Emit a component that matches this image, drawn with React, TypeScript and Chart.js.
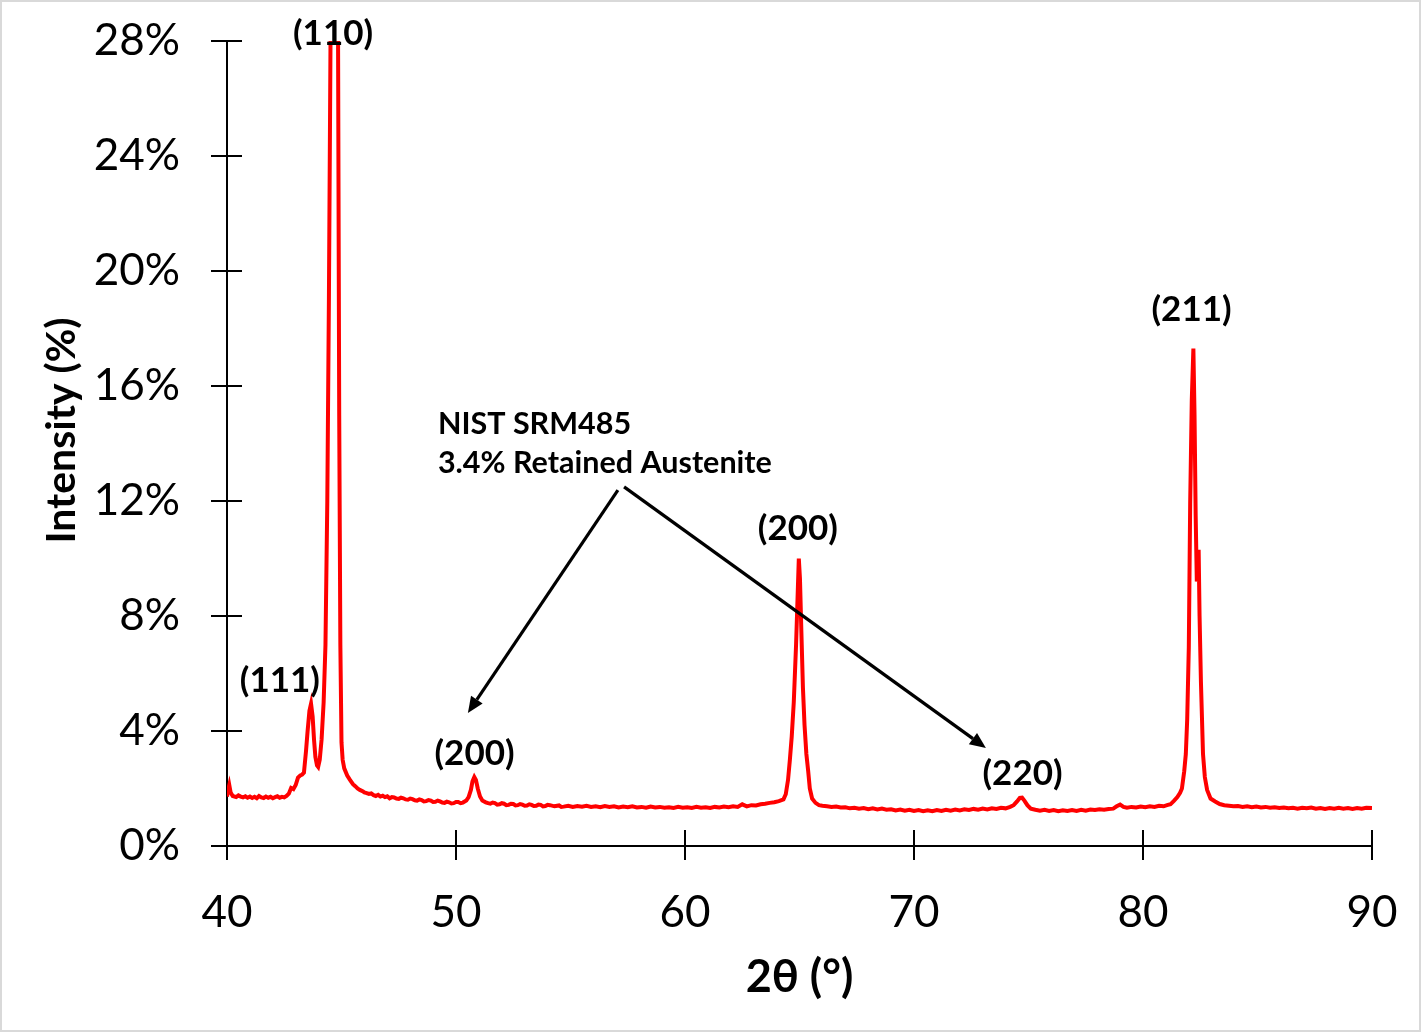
import React, { useEffect, useRef } from "react";
import { Chart, registerables } from "chart.js";

Chart.register(...registerables);

const FONT = "Lato, 'Open Sans', sans-serif";

// measured scan, [2θ (°), intensity (%)]
const scanFerrite110: [number, number][] = [
  [40.0, 1.72], [40.05, 1.95], [40.1, 2.12], [40.16, 1.86], [40.25, 1.74], [40.4, 1.7],
  [40.5, 1.76], [40.6, 1.72], [40.7, 1.69], [40.8, 1.73], [40.9, 1.68], [41.0, 1.72],
  [41.1, 1.67], [41.2, 1.71], [41.3, 1.66], [41.4, 1.74], [41.5, 1.69], [41.6, 1.67],
  [41.7, 1.72], [41.8, 1.68], [41.9, 1.71], [42.0, 1.66], [42.1, 1.7], [42.2, 1.73],
  [42.3, 1.68], [42.4, 1.71], [42.5, 1.69], [42.6, 1.74], [42.7, 1.82],
  [42.8, 2.02], [42.9, 1.98], [43.0, 2.12], [43.1, 2.38], [43.2, 2.45], [43.28, 2.48],
  [43.36, 2.55], [43.45, 3.3], [43.52, 4.0], [43.6, 4.7], [43.67, 4.95], [43.74, 4.5],
  [43.8, 3.7], [43.86, 3.1], [43.93, 2.8], [43.98, 2.75], [44.05, 3.0], [44.13, 3.7],
  [44.22, 5.0], [44.3, 7.0], [44.38, 12], [44.45, 19], [44.52, 28], [44.6, 60],
  [44.68, 100], [44.76, 60], [44.85, 28], [44.9, 15], [44.95, 7], [45.0, 3.6],
  [45.05, 3.0], [45.12, 2.7], [45.25, 2.45], [45.37, 2.3], [45.5, 2.15], [45.6, 2.08],
  [45.7, 2.0], [45.8, 1.95], [45.94, 1.9],
];

const scanAustenite200: [number, number][] = [
  [46.0, 1.86], [46.1, 1.84], [46.2, 1.81], [46.3, 1.83], [46.4, 1.77], [46.5, 1.74],
  [46.6, 1.78], [46.7, 1.72], [46.8, 1.75], [46.9, 1.7], [47.0, 1.73], [47.1, 1.66],
  [47.2, 1.7], [47.3, 1.69], [47.4, 1.65], [47.5, 1.64], [47.6, 1.68], [47.7, 1.66],
  [47.8, 1.62], [47.9, 1.61], [48.0, 1.65], [48.1, 1.63], [48.2, 1.59], [48.3, 1.58],
  [48.4, 1.62], [48.5, 1.6], [48.6, 1.55], [48.7, 1.56], [48.8, 1.6], [48.9, 1.58],
  [49.0, 1.53], [49.1, 1.54], [49.2, 1.58], [49.3, 1.55], [49.4, 1.51], [49.5, 1.5],
  [49.6, 1.54], [49.7, 1.52], [49.8, 1.48], [49.9, 1.49], [50.0, 1.53], [50.1, 1.53],
  [50.2, 1.49], [50.3, 1.51], [50.45, 1.58], [50.55, 1.7],
  [50.65, 1.95], [50.72, 2.25], [50.8, 2.4], [50.87, 2.3], [50.95, 2.0], [51.05, 1.72],
  [51.15, 1.58], [51.3, 1.52], [51.4, 1.49], [51.5, 1.47], [51.6, 1.51], [51.7, 1.49],
  [51.8, 1.44], [51.9, 1.45], [52.0, 1.49], [52.1, 1.47], [52.2, 1.42], [52.3, 1.43],
  [52.4, 1.47], [52.5, 1.46], [52.6, 1.41], [52.7, 1.42], [52.8, 1.46], [52.9, 1.44],
  [53.0, 1.4], [53.1, 1.41], [53.2, 1.45], [53.3, 1.43], [53.4, 1.39], [53.5, 1.4],
  [53.6, 1.44], [53.7, 1.43], [53.8, 1.38], [53.9, 1.39], [54.0, 1.43], [54.1, 1.42],
  [54.3, 1.38], [54.5, 1.41], [54.6, 1.36],
  [54.7, 1.37], [54.9, 1.4], [55.1, 1.36], [55.3, 1.39], [55.5, 1.37], [55.7, 1.4],
  [55.9, 1.36], [56.1, 1.38], [56.3, 1.35], [56.5, 1.39], [56.7, 1.36], [56.9, 1.38],
  [57.1, 1.34], [57.3, 1.37], [57.5, 1.35], [57.7, 1.38], [57.9, 1.34], [58.1, 1.36],
  [58.3, 1.33], [58.5, 1.37], [58.7, 1.34], [58.9, 1.36], [59.1, 1.33], [59.3, 1.35],
  [59.5, 1.32], [59.7, 1.36], [59.9, 1.33], [60.1, 1.35], [60.3, 1.32], [60.5, 1.36],
  [60.7, 1.33], [60.9, 1.35], [61.1, 1.32], [61.3, 1.36], [61.5, 1.34], [61.7, 1.37],
  [61.9, 1.35], [62.1, 1.38], [62.3, 1.36], [62.5, 1.45], [62.7, 1.38], [62.9, 1.42],
  [63.1, 1.41], [63.3, 1.45], [63.5, 1.47], [63.7, 1.5], [63.9, 1.52], [64.1, 1.56],
];

const scanFerrite200: [number, number][] = [
  [64.3, 1.62], [64.4, 1.8], [64.5, 2.3], [64.58, 3.0], [64.66, 3.8], [64.75, 5.0],
  [64.85, 7.0], [64.93, 9.0], [64.97, 10.0], [65.02, 9.3], [65.08, 7.5], [65.15, 5.5],
  [65.22, 4.2], [65.3, 3.2], [65.38, 2.6], [65.45, 2.0], [65.55, 1.65], [65.7, 1.5],
  [65.85, 1.42],
];

const scanAustenite220: [number, number][] = [
  [66.0, 1.4], [66.2, 1.38], [66.4, 1.36], [66.6, 1.37], [66.8, 1.34], [67.0, 1.35],
  [67.2, 1.31], [67.4, 1.33], [67.6, 1.3], [67.8, 1.32], [68.0, 1.28], [68.2, 1.31],
  [68.4, 1.27], [68.6, 1.3], [68.8, 1.26], [69.0, 1.28], [69.2, 1.24], [69.4, 1.27],
  [69.6, 1.23], [69.8, 1.26], [70.0, 1.22], [70.2, 1.25], [70.4, 1.21], [70.6, 1.24],
  [70.8, 1.21], [71.0, 1.25], [71.2, 1.22], [71.4, 1.26], [71.6, 1.23], [71.8, 1.27],
  [72.0, 1.24], [72.2, 1.28], [72.4, 1.25], [72.6, 1.29], [72.8, 1.26], [73.0, 1.3],
  [73.2, 1.27], [73.4, 1.31], [73.6, 1.29], [73.8, 1.33], [74.0, 1.31], [74.2, 1.36],
  [74.35, 1.42], [74.5, 1.55], [74.62, 1.67], [74.72, 1.68], [74.82, 1.58], [74.95, 1.42],
  [75.1, 1.3], [75.3, 1.26], [75.5, 1.23], [75.7, 1.26], [75.9, 1.22], [76.1, 1.25],
  [76.3, 1.21], [76.5, 1.24], [76.7, 1.22], [76.9, 1.25], [77.1, 1.22], [77.3, 1.26],
  [77.5, 1.23], [77.7, 1.27], [77.9, 1.25], [78.1, 1.28], [78.3, 1.26], [78.5, 1.29],
  [78.7, 1.3], [78.85, 1.38], [79.0, 1.44], [79.15, 1.36], [79.3, 1.33], [79.5, 1.36],
  [79.7, 1.34], [79.9, 1.37], [80.1, 1.35], [80.3, 1.38], [80.5, 1.36], [80.7, 1.4],
  [80.9, 1.38],
];

const scanFerrite211: [number, number][] = [
  [81.05, 1.42], [81.2, 1.45], [81.35, 1.57], [81.5, 1.7], [81.62, 1.85], [81.7, 2.0],
  [81.8, 2.6], [81.87, 3.2], [81.93, 4.4], [82.0, 6.9], [82.06, 11.9], [82.13, 15.5],
  [82.2, 17.3], [82.25, 15.0], [82.3, 11.5], [82.35, 9.2], [82.4, 9.5], [82.43, 10.3],
  [82.47, 8.0], [82.53, 5.7], [82.62, 3.2], [82.7, 2.4], [82.8, 1.95], [82.95, 1.65],
  [83.15, 1.55], [83.35, 1.46], [83.55, 1.42], [83.75, 1.4], [83.95, 1.38], [84.15, 1.39],
  [84.35, 1.36], [84.55, 1.38], [84.75, 1.35], [84.95, 1.37], [85.15, 1.34], [85.35, 1.36],
  [85.55, 1.33], [85.75, 1.35], [85.95, 1.32], [86.15, 1.34], [86.35, 1.31], [86.55, 1.33],
  [86.75, 1.3], [86.95, 1.33], [87.15, 1.31], [87.35, 1.34], [87.55, 1.3], [87.75, 1.32],
  [87.95, 1.29], [88.15, 1.32], [88.35, 1.3], [88.55, 1.33], [88.75, 1.3], [88.95, 1.32],
  [89.15, 1.29], [89.35, 1.32], [89.55, 1.3], [89.75, 1.33], [90.0, 1.32],
];

// peak labels (position in 2θ / intensity)
const peakLabels = [
  { text: "(110)", x: 44.63, y: 28.24 },
  { text: "(111)", x: 42.31, y: 5.74 },
  { text: "(200)", x: 50.81, y: 3.2 },
  { text: "(200)", x: 64.93, y: 11.03 },
  { text: "(220)", x: 74.74, y: 2.5 },
  { text: "(211)", x: 82.12, y: 18.64 },
];

const noteLines = ["NIST SRM485", "3.4% Retained Austenite"];
const noteAnchor = { x: 49.21, y: [14.32, 12.97] };

const noteArrows = [
  { from: [57.07, 12.38], to: [50.52, 4.63] },
  { from: [57.34, 12.49], to: [73.14, 3.41] },
];

const yTitle = "Intensity (%)";

const annotations = {
  id: "annotations",
  afterDatasetsDraw(chart: any) {
    const { ctx, chartArea } = chart;
    const xs = chart.scales.x;
    const ys = chart.scales.y;
    ctx.save();

    // tick marks crossing the axes
    ctx.strokeStyle = "#000";
    ctx.lineWidth = 2;
    ctx.beginPath();
    ys.ticks.forEach((t: any) => {
      const py = Math.round(ys.getPixelForValue(t.value));
      ctx.moveTo(chartArea.left - 16, py);
      ctx.lineTo(chartArea.left + 15, py);
    });
    xs.ticks.forEach((t: any) => {
      const px = Math.round(xs.getPixelForValue(t.value));
      ctx.moveTo(px, chartArea.bottom - 16);
      ctx.lineTo(px, chartArea.bottom + 14);
    });
    ctx.stroke();

    // y axis title
    ctx.fillStyle = "#000";
    ctx.save();
    ctx.translate(62, (chartArea.top + chartArea.bottom) / 2 - 13);
    ctx.rotate(-Math.PI / 2);
    ctx.font = `bold 41px ${FONT}`;
    ctx.textAlign = "center";
    ctx.textBaseline = "middle";
    ctx.fillText(yTitle, 0, 0);
    ctx.restore();

    // peak labels
    ctx.font = `bold 35px ${FONT}`;
    ctx.textAlign = "center";
    ctx.textBaseline = "middle";
    peakLabels.forEach((l) => {
      ctx.fillText(l.text, xs.getPixelForValue(l.x), ys.getPixelForValue(l.y));
    });

    // note text
    ctx.font = `bold 30.5px ${FONT}`;
    ctx.textAlign = "left";
    ctx.textBaseline = "alphabetic";
    noteLines.forEach((line, i) => {
      ctx.fillText(line, xs.getPixelForValue(noteAnchor.x), ys.getPixelForValue(noteAnchor.y[i]));
    });

    // arrows
    ctx.lineWidth = 3.2;
    noteArrows.forEach((a) => {
      const x1 = xs.getPixelForValue(a.from[0]);
      const y1 = ys.getPixelForValue(a.from[1]);
      const x2 = xs.getPixelForValue(a.to[0]);
      const y2 = ys.getPixelForValue(a.to[1]);
      const ang = Math.atan2(y2 - y1, x2 - x1);
      const head = 16;
      const bx = x2 - head * Math.cos(ang);
      const by = y2 - head * Math.sin(ang);
      ctx.beginPath();
      ctx.moveTo(x1, y1);
      ctx.lineTo(bx, by);
      ctx.stroke();
      ctx.beginPath();
      ctx.moveTo(x2, y2);
      ctx.lineTo(bx + 7 * Math.sin(ang), by - 7 * Math.cos(ang));
      ctx.lineTo(bx - 7 * Math.sin(ang), by + 7 * Math.cos(ang));
      ctx.closePath();
      ctx.fill();
    });

    ctx.restore();
  },
};

export default function App() {
  const canvasRef = useRef<HTMLCanvasElement>(null);

  useEffect(() => {
    const ctx = canvasRef.current?.getContext("2d");
    if (!ctx) return;

    const scan = [
      ...scanFerrite110,
      ...scanAustenite200,
      ...scanFerrite200,
      ...scanAustenite220,
      ...scanFerrite211,
    ].map(([x, y]) => ({ x, y }));

    const chart = new Chart(ctx, {
      type: "line",
      data: {
        datasets: [
          {
            data: scan,
            borderColor: "#ff0000",
            borderWidth: 4,
            pointRadius: 0,
            tension: 0,
            fill: false,
          },
        ],
      },
      options: {
        animation: false,
        responsive: true,
        maintainAspectRatio: false,
        layout: { padding: { top: 41, right: 49, left: 0, bottom: 0 } },
        plugins: {
          legend: { display: false },
          tooltip: { enabled: false },
        },
        scales: {
          x: {
            type: "linear",
            min: 40,
            max: 90,
            afterFit: (s: any) => {
              s.height = 186;
            },
            ticks: {
              stepSize: 10,
              color: "#000",
              padding: 0,
              maxRotation: 0,
              font: { family: FONT, size: 44 },
            },
            // tick marks are drawn by the plugin; tickLength only offsets the labels
            grid: { display: false, drawTicks: true, tickLength: 40 },
            border: { display: true, color: "#000", width: 2 },
            title: {
              display: true,
              text: "2θ (°)",
              color: "#000",
              font: { family: FONT, size: 45, weight: "bold" },
              padding: { top: 0, bottom: 28 },
            },
          },
          y: {
            min: 0,
            max: 28,
            afterFit: (s: any) => {
              s.width = 227;
            },
            ticks: {
              stepSize: 4,
              color: "#000",
              padding: 0,
              font: { family: FONT, size: 44 },
              callback: (v: any) => `${v}%`,
            },
            grid: { display: false, drawTicks: true, tickLength: 47 },
            border: { display: true, color: "#000", width: 2 },
          },
        },
      },
      plugins: [annotations],
    });

    return () => chart.destroy();
  }, []);

  return (
    <div
      style={{
        position: "fixed",
        left: 0,
        top: 0,
        width: 1421,
        height: 1032,
        background: "#fff",
      }}
    >
      <canvas ref={canvasRef} />
      <div
        style={{
          position: "absolute",
          inset: 0,
          border: "2px solid #d9d9d9",
          pointerEvents: "none",
        }}
      />
    </div>
  );
}
